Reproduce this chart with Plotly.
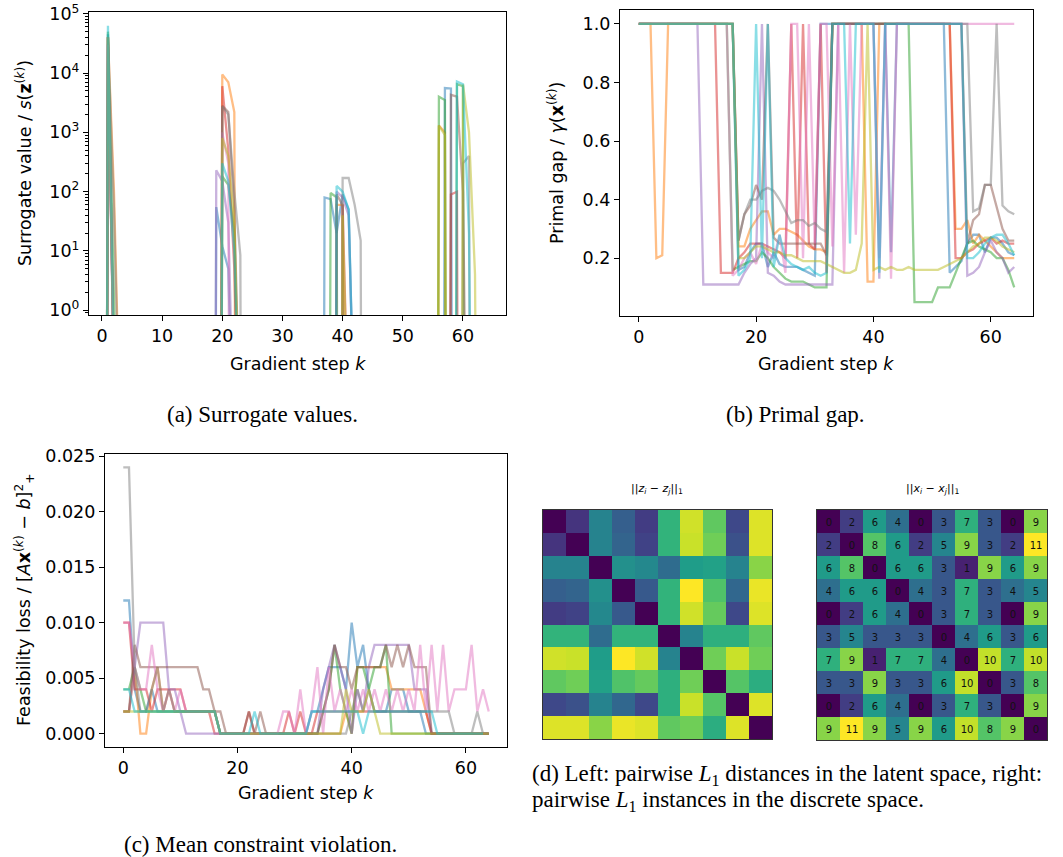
import plotly.graph_objects as go

W, H = 1063, 857
steps = list(range(65))
colors = ["#1f77b4", "#ff7f0e", "#2ca02c", "#d62728", "#9467bd",
          "#8c564b", "#e377c2", "#7f7f7f", "#bcbd22", "#17becf"]

# ---------------- (a) surrogate values: nonzero entries {step: value}, zero elsewhere
surr_blue = {1: 45000, 19: 55, 20: 12, 21: 5, 37: 80, 38: 75, 39: 20, 40: 90, 41: 50, 57: 5600, 58: 5500}
surr_orange = {1: 40000, 2: 100, 20: 9500, 21: 7000, 22: 2200, 39: 60, 40: 60, 56: 1300, 57: 1000}
surr_green = {1: 50000, 2: 1.5, 20: 180, 21: 130, 22: 20, 38: 95, 39: 80, 56: 4000, 57: 3500, 59: 6500, 60: 6000}
surr_red = {1: 40000, 20: 6000, 21: 500, 22: 5, 40: 60, 58: 90, 59: 100}
surr_purple = {1: 30000, 19: 230, 20: 150, 21: 30, 39: 100, 40: 80, 41: 40}
surr_brown = {1: 40000, 20: 2800, 21: 2200, 22: 50, 39: 90, 40: 60, 58: 4300, 59: 4000, 60: 100}
surr_pink = {1: 30000, 20: 1000, 21: 300}
surr_gray = {1: 40000, 2: 50, 20: 2700, 21: 2000, 22: 100, 23: 8.5, 40: 170, 41: 170, 42: 60, 43: 15, 60: 300, 61: 400}
surr_olive = {1: 40000, 20: 800, 21: 400, 22: 30, 40: 40, 56: 1300, 57: 900, 60: 6500, 61: 1000, 62: 4}
surr_cyan = {1: 63000, 20: 300, 21: 150, 22: 10, 39: 125, 40: 100, 41: 50, 59: 7200, 60: 6500, 61: 20}
surrogate = [surr_blue, surr_orange, surr_green, surr_red, surr_purple,
             surr_brown, surr_pink, surr_gray, surr_olive, surr_cyan]

# ---------------- (b) primal gap
gap_blue = [1.0]*17 + [0.16, 0.17, 0.22, 0.25, 0.25, 0.17, 0.22, 0.18, 0.17, 0.17, 0.17, 0.16, 0.15, 0.14] \
    + [1.0]*12 + [0.22] + [1.0]*9 + [0.15, 0.17, 0.19, 0.25, 0.28, 0.28, 0.22, 0.27, 0.27, 0.25, 0.22, 0.21]
gap_orange = [1.0]*3 + [0.2, 0.21] + [1.0]*12 + [0.24, 0.24, 0.3, 0.33, 0.36, 0.36, 0.28, 0.3, 0.3, 0.29, 0.28,
    0.26, 0.24, 0.23, 0.23, 0.22] + [1.0]*6 + [0.12, 0.12] + [1.0]*13 \
    + [0.3, 0.3, 0.33, 0.25, 0.28, 0.26, 0.24, 0.22, 0.2, 0.2, 0.2]
gap_green = [1.0]*16 + [0.16, 0.17, 0.18, 0.19, 0.19, 0.22, 0.2, 0.17, 0.15, 0.13, 0.12, 0.12, 0.12, 0.11,
    0.1, 0.1, 0.1] + [1.0]*14 + [0.05, 0.05, 0.05, 0.05, 0.1, 0.1, 0.1, 0.15, 0.2, 0.25, 0.26, 0.24, 0.23,
    0.22, 0.2, 0.2, 0.16, 0.1]
gap_red = [1.0]*14 + [0.15, 0.15, 0.15, 0.2, 0.22, 0.25, 0.25, 0.25, 0.24, 0.23, 0.22, 0.2, 1.0, 0.2, 1.0,
    0.25, 0.23, 1.0, 0.15] + [1.0]*21 + [0.2, 0.2, 0.22, 0.23, 0.25, 0.26, 0.27, 0.25, 0.26, 0.25, 0.25]
gap_purple = [1.0]*11 + [0.11]*7 + [0.15, 0.18, 0.2, 1.0, 0.15, 0.14, 0.12] + [0.11]*9 + [1.0]*7 \
    + [0.13] + [1.0]*14 + [0.14, 0.15, 0.17, 0.22, 0.26, 0.22, 0.2, 0.15, 0.17]
gap_brown = [1.0]*17 + [0.26, 0.35, 0.38, 0.45, 0.4, 1.0, 0.27] + [0.25]*8 + [0.21] + [1.0]*23 \
    + [0.25, 0.33, 0.35, 0.45, 0.45, 0.37, 0.3, 0.26, 0.26]
gap_pink = [1.0]*16 + [0.14, 0.16, 0.2, 0.22, 0.18, 0.25, 0.22, 0.2, 0.28, 0.15, 1.0, 1.0, 0.2, 1.0, 0.25,
    1.0, 1.0, 0.24, 1.0, 0.15, 1.0, 0.28, 1.0, 1.0, 1.0, 0.2, 1.0, 0.13] + [1.0]*21
gap_gray = [1.0]*17 + [0.26, 0.35, 0.4, 0.4, 0.43, 0.44, 0.43, 0.4, 0.36, 0.32, 0.33, 0.33, 0.31, 0.32,
    0.3, 0.29] + [1.0]*24 + [0.36, 0.37, 0.45, 0.45, 1.0, 0.38, 0.36, 0.35]
gap_olive = [1.0]*17 + [0.2, 0.2, 0.22, 0.24, 0.24, 0.23, 0.22, 0.22, 0.21, 0.21, 0.2, 0.19, 0.19, 0.19,
    0.19, 0.18, 0.17, 0.16, 0.15, 0.15, 0.16, 0.25, 1.0, 0.16, 0.17, 0.16, 0.17, 0.16, 0.16, 0.17, 0.16,
    0.16, 0.16, 0.16, 0.16, 0.17, 0.18, 0.19, 0.2, 0.22, 0.24, 0.25, 0.27, 0.27, 0.26, 0.24, 0.23, 0.22]
gap_cyan = [1.0]*17 + [0.14, 0.16, 0.2, 1.0, 0.2, 1.0, 0.17, 0.28, 0.2, 0.18, 0.17, 0.16, 0.17, 0.15,
    0.14, 0.15] + [1.0]*3 + [0.25] + [1.0]*4 + [0.15] + [1.0]*14 \
    + [0.2, 0.2, 0.22, 0.25, 0.27, 0.28, 0.28, 0.25, 0.21]
primal_gap = [gap_blue, gap_orange, gap_green, gap_red, gap_purple,
              gap_brown, gap_pink, gap_gray, gap_olive, gap_cyan]

# ---------------- (c) feasibility loss
feas_blue = [0.012, 0.012, 0.004, 0.002, 0.002, 0.004, 0.002] + [0.002]*10 + [0]*16 \
    + [0.002, 0.002, 0.004, 0.006, 0.006, 0.006, 0.004, 0.01, 0.006, 0.008, 0.004, 0.002,
       0.002, 0.002, 0.004, 0.004, 0.004, 0.002, 0.002, 0.002, 0] + [0]*11
feas_orange = [0.002, 0.002, 0.006, 0, 0, 0.004, 0.006, 0.002, 0.004, 0.002] + [0.002]*7 + [0]*21 \
    + [0, 0.002, 0, 0.006, 0.006, 0.006, 0.006, 0.006, 0.006, 0.004] + [0.004]*5 + [0.002] + [0]*11
feas_green = [0.004, 0.004, 0.006, 0.004, 0.002] + [0.002]*12 + [0]*18 \
    + [0.002, 0.004, 0.008, 0.004, 0.002, 0, 0.006, 0.006, 0.004, 0.006, 0.006, 0.008, 0] + [0]*17
feas_red = [0.01, 0.01, 0.004, 0.004, 0.004, 0.002, 0.004, 0.004, 0.004, 0.004, 0.004, 0.002] \
    + [0.002]*4 + [0]*6 + [0.002, 0] + [0]*5 + [0.002, 0, 0.002, 0, 0, 0.002] + [0.002]*19 + [0] + [0]*10
feas_purple = [0.002, 0.002, 0.006, 0.01] + [0.01]*4 + [0.004, 0.004, 0.002] + [0]*24 \
    + [0.004, 0.006, 0.008, 0.006, 0.004, 0, 0.004, 0.002, 0.006, 0.008] + [0.008]*6 \
    + [0.004, 0.004, 0.004, 0] + [0]*10
feas_brown = [0.002, 0.002, 0.008, 0.006] + [0.006]*10 + [0.004, 0.004, 0.002, 0.002] \
    + [0, 0, 0, 0, 0.002, 0, 0.002] + [0]*10 \
    + [0.002, 0.004, 0.008, 0.006, 0.006, 0.004, 0.006, 0.006, 0.006, 0.006, 0.006, 0.008, 0.006,
       0.008, 0.006, 0.008, 0.006, 0.006, 0.006, 0] + [0]*10
feas_pink = [0.01, 0.01, 0.006, 0.004, 0.004, 0.008, 0.004, 0.002, 0.004, 0.002, 0.004, 0.002] \
    + [0.002]*5 + [0]*11 + [0.002, 0.002, 0, 0.004, 0, 0.002, 0.006, 0, 0.006, 0.002, 0.004, 0.002,
    0.004, 0.002, 0.004, 0.002, 0.004, 0.002, 0.004, 0.002, 0.004, 0.002, 0.004, 0.002, 0.008, 0.002,
    0.008, 0.002, 0.008, 0.002, 0.004, 0.004, 0.004, 0.008, 0.002, 0.004, 0.002]
feas_gray = [0.024, 0.024, 0.006, 0.002, 0.002, 0.004, 0.006, 0.002, 0.004] + [0.002]*8 + [0]*23 \
    + [0.002, 0.004, 0.002, 0.004] + [0.002]*14 + [0, 0, 0, 0, 0.002, 0, 0]
feas_olive = [0.002]*17 + [0]*22 + [0.004, 0.002, 0.002, 0.002, 0.004, 0.002] + [0]*20
feas_cyan = [0.004, 0.004, 0.002, 0.002] + [0.002]*13 + [0]*6 + [0.002] + [0]*9 + [0.002]*7 \
    + [0.002, 0.002, 0, 0.002] + [0.002]*10 + [0.002, 0] + [0]*8
feasibility = [feas_blue, feas_orange, feas_green, feas_red, feas_purple,
               feas_brown, feas_pink, feas_gray, feas_olive, feas_cyan]

# ---------------- (d) pairwise distances
latent_dist = [
    [0.00, 0.15, 0.45, 0.30, 0.18, 0.65, 0.93, 0.75, 0.22, 0.95],
    [0.15, 0.00, 0.45, 0.32, 0.20, 0.65, 0.92, 0.78, 0.25, 0.95],
    [0.45, 0.45, 0.00, 0.50, 0.47, 0.35, 0.55, 0.57, 0.45, 0.82],
    [0.30, 0.32, 0.50, 0.00, 0.28, 0.65, 1.00, 0.72, 0.33, 0.97],
    [0.18, 0.20, 0.47, 0.28, 0.00, 0.65, 0.93, 0.76, 0.22, 0.95],
    [0.65, 0.65, 0.35, 0.65, 0.65, 0.00, 0.45, 0.63, 0.63, 0.75],
    [0.93, 0.92, 0.55, 1.00, 0.93, 0.45, 0.00, 0.78, 0.92, 0.78],
    [0.75, 0.78, 0.57, 0.72, 0.76, 0.63, 0.78, 0.00, 0.73, 0.62],
    [0.22, 0.25, 0.45, 0.33, 0.22, 0.63, 0.92, 0.73, 0.00, 0.95],
    [0.95, 0.95, 0.82, 0.97, 0.95, 0.75, 0.78, 0.62, 0.95, 0.00],
]
discrete_dist = [
    [0, 2, 6, 4, 0, 3, 7, 3, 0, 9],
    [2, 0, 8, 6, 2, 5, 9, 3, 2, 11],
    [6, 8, 0, 6, 6, 3, 1, 9, 6, 9],
    [4, 6, 6, 0, 4, 3, 7, 3, 4, 5],
    [0, 2, 6, 4, 0, 3, 7, 3, 0, 9],
    [3, 5, 3, 3, 3, 0, 4, 6, 3, 6],
    [7, 9, 1, 7, 7, 4, 0, 10, 7, 10],
    [3, 3, 9, 3, 3, 6, 10, 0, 3, 8],
    [0, 2, 6, 4, 0, 3, 7, 3, 0, 9],
    [9, 11, 9, 5, 9, 6, 10, 8, 9, 0],
]
cells = list(range(10))

# ---------------- figure
fig = go.Figure()
LW, OP = 2.3, 0.5

for c, d in zip(colors, surrogate):
    vals = [d.get(k, 0) for k in steps]
    # zeros are clipped below the log axis, as matplotlib does
    yplot = [v if v > 0 else 1e-30 for v in vals]
    fig.add_trace(go.Scatter(x=steps, y=yplot, mode="lines", line=dict(color=c, width=LW),
                             opacity=OP, xaxis="x", yaxis="y", hoverinfo="skip"))
for c, s in zip(colors, primal_gap):
    fig.add_trace(go.Scatter(x=steps, y=s, mode="lines", line=dict(color=c, width=LW),
                             opacity=OP, xaxis="x2", yaxis="y2", hoverinfo="skip"))
for c, s in zip(colors, feasibility):
    fig.add_trace(go.Scatter(x=steps, y=s, mode="lines", line=dict(color=c, width=LW),
                             opacity=OP, xaxis="x3", yaxis="y3", hoverinfo="skip"))

fig.add_trace(go.Heatmap(z=latent_dist, x=cells, y=cells, colorscale="Viridis", zmin=0, zmax=1,
                         showscale=False, xaxis="x4", yaxis="y4", hoverinfo="skip"))
fig.add_trace(go.Heatmap(z=discrete_dist, x=cells, y=cells, colorscale="Viridis", zmin=0, zmax=11,
                         showscale=False, xaxis="x5", yaxis="y5", hoverinfo="skip",
                         texttemplate="%{z}", textfont=dict(family="DejaVu Sans", size=10, color="#111")))

TF = dict(family="DejaVu Sans", size=17.5, color="black")
ax = dict(showline=True, mirror=True, linecolor="black", linewidth=1.2, ticks="outside",
          ticklen=5, tickwidth=1.2, tickcolor="black", showgrid=False, zeroline=False, tickfont=TF,
          automargin=False)
hm = dict(showline=True, mirror=True, linecolor="#333", linewidth=1, showticklabels=False,
          ticks="", showgrid=False, zeroline=False, range=[-0.5, 9.5], automargin=False)

def dx(a, b):
    return [a / W, b / W]

def dy(top, bottom):
    return [1 - bottom / H, 1 - top / H]

fig.update_layout(
    width=W, height=H, margin=dict(l=0, r=0, t=0, b=0, autoexpand=False),
    paper_bgcolor="white", plot_bgcolor="white", showlegend=False,
    xaxis=dict(ax, domain=dx(89, 506), anchor="y", range=[-2.15, 67.15],
               tickvals=[0, 10, 20, 30, 40, 50, 60]),
    yaxis=dict(ax, domain=dy(12, 315), anchor="x", type="log", range=[-0.08, 5.03],
               tickvals=[1, 10, 100, 1000, 10000, 100000],
               ticktext=["10<sup>0</sup>", "10<sup>1</sup>", "10<sup>2</sup>", "10<sup>3</sup>",
                         "10<sup>4</sup>", "10<sup>5</sup>"],
               minor=dict(ticks="outside", ticklen=2.5, tickwidth=0.8, tickcolor="black",
                          dtick="D1", showgrid=False)),
    xaxis2=dict(ax, domain=dx(620, 1033), anchor="y2", range=[-3.2, 67.2], tickvals=[0, 20, 40, 60]),
    yaxis2=dict(ax, domain=dy(10, 316), anchor="x2", range=[0.0025, 1.0475],
                tickvals=[0.2, 0.4, 0.6, 0.8, 1.0], ticktext=["0.2", "0.4", "0.6", "0.8", "1.0"]),
    xaxis3=dict(ax, domain=dx(105, 507), anchor="y3", range=[-3.2, 67.2], tickvals=[0, 20, 40, 60]),
    yaxis3=dict(ax, domain=dy(454, 747), anchor="x3", range=[-0.0012, 0.0252],
                tickvals=[0, 0.005, 0.01, 0.015, 0.02, 0.025],
                ticktext=["0.000", "0.005", "0.010", "0.015", "0.020", "0.025"]),
    xaxis4=dict(hm, domain=dx(543, 772), anchor="y4"),
    yaxis4=dict(hm, domain=dy(510, 739), anchor="x4", autorange=False, range=[9.5, -0.5]),
    xaxis5=dict(hm, domain=dx(817, 1047), anchor="y5"),
    yaxis5=dict(hm, domain=dy(510, 740), anchor="x5", autorange=False, range=[9.5, -0.5]),
)

LF = dict(family="DejaVu Sans", size=17.5, color="black")
CF = dict(family="Liberation Serif", size=23, color="black")
ann = []

def label(text, x, y, font, angle=0, xanchor="center"):
    ann.append(dict(text=text, x=x / W, y=1 - y / H, xref="paper", yref="paper", showarrow=False,
                    font=font, textangle=angle, xanchor=xanchor, yanchor="middle"))

label("Surrogate value / <i>s</i>(<b>z</b><sup>(<i>k</i>)</sup>)", 24, 163, LF, -90)
label("Primal gap / <i>γ</i>(<b>x</b><sup>(<i>k</i>)</sup>)", 556, 163, LF, -90)
label("Feasibility loss / [<i>A</i><b>x</b><sup>(<i>k</i>)</sup> − <i>b</i>]<sup>2</sup><sub>+</sub>",
      24, 600, LF, -90)
label("Gradient step <i>k</i>", 297.5, 364, LF)
label("Gradient step <i>k</i>", 826, 364, LF)
label("Gradient step <i>k</i>", 306, 793, LF)
label("||<i>z<sub>i</sub></i> − <i>z<sub>j</sub></i>||<sub>1</sub>", 657, 489,
      dict(family="DejaVu Sans", size=11, color="black"))
label("||<i>x<sub>i</sub></i> − <i>x<sub>j</sub></i>||<sub>1</sub>", 932, 489,
      dict(family="DejaVu Sans", size=11, color="black"))
label("(a) Surrogate values.", 262, 414, CF)
label("(b) Primal gap.", 795, 414, CF)
label("(c) Mean constraint violation.", 260, 844, CF)
label("(d) Left: pairwise <i>L</i><sub>1</sub> distances in the latent space, right:",
      530, 775, CF, xanchor="left")
label("pairwise <i>L</i><sub>1</sub> instances in the discrete space.", 530, 801, CF, xanchor="left")
fig.update_layout(annotations=ann)

fig.write_html("out.html", config={"displayModeBar": False},
               post_script="document.body.style.margin='0';")
